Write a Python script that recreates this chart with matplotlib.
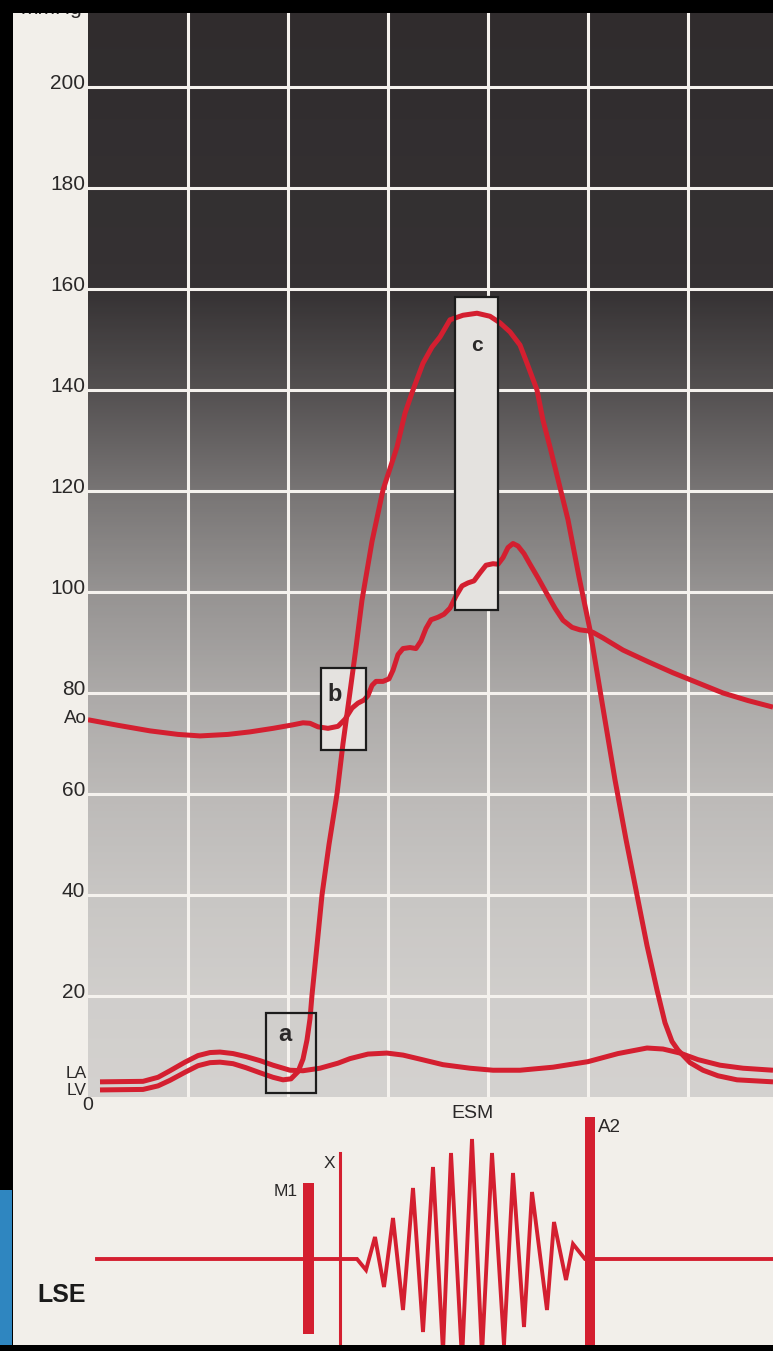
import matplotlib
matplotlib.use("Agg")
import matplotlib.pyplot as plt
import numpy as np
from matplotlib.colors import LinearSegmentedColormap
from matplotlib.patches import Rectangle
from matplotlib.transforms import ScaledTranslation

plt.rcParams["font.family"] = ["Liberation Sans", "DejaVu Sans"]

# time axis in grid divisions, pressure in mmHg
lv_t = [0.12, 0.55, 0.70, 0.82, 0.97, 1.10, 1.22, 1.32, 1.45, 1.58, 1.72, 1.85, 1.95,
        2.03, 2.10, 2.15, 2.19, 2.22, 2.24, 2.29, 2.34, 2.41, 2.49, 2.55, 2.62, 2.68,
        2.74, 2.84, 2.95, 3.09, 3.17, 3.25, 3.35, 3.44, 3.52, 3.62, 3.75, 3.89, 4.02,
        4.12, 4.22, 4.32, 4.39, 4.49, 4.55, 4.62, 4.71, 4.80, 4.91, 5.02, 5.15, 5.27,
        5.38, 5.49, 5.59, 5.69, 5.77, 5.84, 5.90, 6.02, 6.15, 6.30, 6.49, 6.85]
lv_p = [1.4, 1.5, 2.2, 3.3, 4.9, 6.2, 6.8, 6.9, 6.6, 5.8, 4.8, 3.9, 3.4,
        3.6, 5.0, 7.5, 11.3, 15.5, 20.2, 30, 40, 50, 60, 70, 80.2, 89,
        98.4, 110, 120.2, 128.7, 135.4, 140, 145.3, 148.5, 150.5, 153.9, 154.8, 155.2, 154.6,
        153.3, 151.5, 148.9, 145.3, 140, 134, 128.7, 121.5, 114.3, 103, 92.5, 77, 62.8,
        51, 40, 30, 21.2, 14.7, 11, 9.3, 6.8, 5.3, 4.2, 3.4, 3.0]

la_t = [0.12, 0.55, 0.70, 0.82, 0.97, 1.10, 1.22, 1.32, 1.45, 1.58, 1.72, 1.85, 2.02,
        2.15, 2.32, 2.50, 2.62, 2.80, 2.99, 3.15, 3.32, 3.55, 3.82, 4.05, 4.32, 4.65,
        5.00, 5.30, 5.59, 5.75, 5.92, 6.10, 6.32, 6.55, 6.85]
la_p = [3.0, 3.1, 3.9, 5.2, 6.9, 8.2, 8.8, 8.9, 8.6, 8.0, 7.2, 6.3, 5.3,
        5.2, 5.7, 6.7, 7.6, 8.5, 8.7, 8.3, 7.5, 6.4, 5.7, 5.3, 5.3, 5.9,
        7.0, 8.6, 9.7, 9.5, 8.7, 7.4, 6.3, 5.7, 5.3]

ao_t = [0.00, 0.30, 0.62, 0.90, 1.12, 1.40, 1.62, 1.85, 2.05, 2.15, 2.22, 2.30, 2.40,
        2.50, 2.57, 2.64, 2.70, 2.76, 2.80, 2.84, 2.88, 2.95, 3.01, 3.05, 3.10, 3.15,
        3.22, 3.28, 3.33, 3.38, 3.43, 3.50, 3.56, 3.62, 3.68, 3.74, 3.80, 3.86, 3.92,
        3.98, 4.05, 4.10, 4.15, 4.20, 4.25, 4.30, 4.36, 4.42, 4.50, 4.59, 4.67, 4.75,
        4.84, 4.92, 5.00, 5.05, 5.15, 5.35, 5.60, 5.85, 6.10, 6.35, 6.60, 6.85]
ao_p = [74.7, 73.6, 72.5, 71.8, 71.5, 71.8, 72.3, 73.0, 73.7, 74.1, 74.0, 73.3, 73.0,
        73.4, 74.8, 77.0, 78.0, 78.6, 79.5, 81.5, 82.3, 82.3, 82.8, 84.5, 87.6, 88.8,
        89.0, 88.8, 90.3, 92.8, 94.5, 95.0, 95.6, 96.8, 99.2, 101.2, 101.8, 102.2, 103.8,
        105.3, 105.6, 105.5, 106.8, 108.8, 109.6, 109.1, 107.6, 105.5, 102.8, 99.6, 96.8, 94.4,
        93.0, 92.5, 92.3, 92.0, 90.9, 88.5, 86.2, 84.0, 82.0, 80.0, 78.5, 77.2]

# phonocardiogram (LSE), arbitrary amplitude
snd_t = [0.09, 2.69, 2.78, 2.87, 2.96, 3.05, 3.15, 3.25, 3.35, 3.45, 3.55, 3.63, 3.74,
         3.84, 3.94, 4.04, 4.16, 4.25, 4.36, 4.44, 4.59, 4.66, 4.78, 4.85, 4.97, 6.85]
snd_a = [0, 0, -0.11, 0.22, -0.28, 0.41, -0.51, 0.71, -0.73, 0.92, -0.93, 1.06, -1.01,
         1.20, -0.96, 1.06, -0.86, 0.86, -0.68, 0.67, -0.51, 0.37, -0.21, 0.15, 0, 0]

# boxes
box_names = ["a", "b", "c"]
box_t = [(1.78, 2.28), (2.33, 2.78), (3.67, 4.10)]
box_p = [(0.8, 16.6), (68.7, 84.9), (96.4, 158.4)]

# background shading vs pressure
shade_p = [0, 20, 40, 60, 80, 100, 120, 140, 160, 215]
shade_v = [0.91, 0.89, 0.85, 0.79, 0.71, 0.60, 0.45, 0.27, 0.12, 0.09]

W, H = 773, 1351
RED = "#d41f30"
PAPER = "#f2efea"
INK = "#2a2828"
XMAX = 6.85
PMAX = 214.65

fig = plt.figure(figsize=(W / 100, H / 100), dpi=100, facecolor=PAPER)

ax = fig.add_axes([88 / W, 254 / H, 685 / W, 1084 / H])
ax.set_xlim(0, XMAX)
ax.set_ylim(0, PMAX)

levels = np.linspace(0, PMAX, 500)
grad = np.interp(levels, shade_p, shade_v)[:, None]
cmap = LinearSegmentedColormap.from_list("paper", ["#1e1a1c", "#e6e4e1"])
ax.imshow(grad, extent=[0, XMAX, 0, PMAX], origin="lower", aspect="auto",
          cmap=cmap, vmin=0, vmax=1, zorder=0)

ax.set_xticks(np.arange(1, 7))
ax.set_yticks(np.arange(20, 201, 20))
ax.grid(True, color="#f5f2ee", lw=2.2)
ax.set_axisbelow(True)
ax.tick_params(length=0, labelbottom=False, labelsize=15, labelcolor=INK, pad=2)
off = ScaledTranslation(0, 5 / 100, fig.dpi_scale_trans)
for lab in ax.get_yticklabels():
    lab.set_transform(lab.get_transform() + off)
for s in ax.spines.values():
    s.set_visible(False)

for name, (t0, t1), (p0, p1) in zip(box_names, box_t, box_p):
    fill = "none" if name == "a" else "#e4e2df"
    ax.add_patch(Rectangle((t0, p0), t1 - t0, p1 - p0, facecolor=fill,
                           edgecolor="none", zorder=2))
    ax.add_patch(Rectangle((t0, p0), t1 - t0, p1 - p0, facecolor="none",
                           edgecolor="#1c1c1c", lw=1.6, zorder=4))

ax.text(1.97, 12.3, "a", fontsize=17, fontweight="bold", color=INK,
        ha="center", va="center", zorder=5)
ax.text(2.47, 79.8, "b", fontsize=17, fontweight="bold", color=INK,
        ha="center", va="center", zorder=5)
ax.text(3.89, 148.9, "c", fontsize=15, fontweight="bold", color=INK,
        ha="center", va="center", zorder=5)

kw = dict(color=RED, lw=3.6, solid_capstyle="butt", solid_joinstyle="round", zorder=3)
ax.plot(ao_t, ao_p, **kw)
ax.plot(la_t, la_p, **kw)
ax.plot(lv_t, lv_p, **kw)

ax.text(-0.01, 75, "Ao", fontsize=13.5, color=INK, ha="right", va="center", clip_on=False)
ax.text(-0.01, 4.6, "LA", fontsize=12.5, color=INK, ha="right", va="center", clip_on=False)
ax.text(-0.01, 1.3, "LV", fontsize=12.5, color=INK, ha="right", va="center", clip_on=False)
ax.text(0.0, -1.7, "0", fontsize=14, color=INK, ha="center", va="center", clip_on=False)

# sound trace
ax2 = fig.add_axes([88 / W, 6 / H, 685 / W, 248 / H])
ax2.set_xlim(0, XMAX)
ax2.set_ylim(-0.86, 1.62)
ax2.axis("off")
ax2.plot(snd_t, snd_a, color=RED, lw=2.8, solid_joinstyle="miter", zorder=3)
ax2.bar(2.205, 1.51, bottom=-0.75, width=0.11, color=RED, zorder=3)
ax2.bar(5.02, 2.4, bottom=-0.98, width=0.10, color=RED, zorder=3)
ax2.plot([2.52, 2.52], [1.06, -0.98], color=RED, lw=2.2, zorder=3)

ax2.text(2.10, 0.67, "M1", fontsize=12.5, color=INK, ha="right", va="center")
ax2.text(2.41, 0.96, "X", fontsize=12.5, color=INK, ha="center", va="center")
ax2.text(3.84, 1.45, "ESM", fontsize=14, color=INK, ha="center", va="center")
ax2.text(5.10, 1.31, "A2", fontsize=13.5, color=INK, ha="left", va="center")
ax2.text(-0.51, -0.36, "LSE", fontsize=18, fontweight="bold", color="#1a1a1a",
         ha="left", va="center", clip_on=False)

# cropped axis unit at the very top
fig.text(82 / W, 1 - 14 / H, "mmHg", fontsize=15, color=INK, ha="right",
         va="baseline", zorder=1)

# scan frame
fig.patches.append(Rectangle((0, 1 - 13 / H), 1, 13 / H, transform=fig.transFigure,
                             facecolor="black", edgecolor="none", zorder=20))
fig.patches.append(Rectangle((0, 0), 13 / W, 1, transform=fig.transFigure,
                             facecolor="black", edgecolor="none", zorder=20))
fig.patches.append(Rectangle((0, 6 / H), 12 / W, (1345 - 1190) / H,
                             transform=fig.transFigure, facecolor="#2f86c0",
                             edgecolor="none", zorder=21))
fig.patches.append(Rectangle((0, 0), 1, 6 / H, transform=fig.transFigure,
                             facecolor="black", edgecolor="none", zorder=22))

fig.savefig("out.png", dpi=100, facecolor=PAPER)
